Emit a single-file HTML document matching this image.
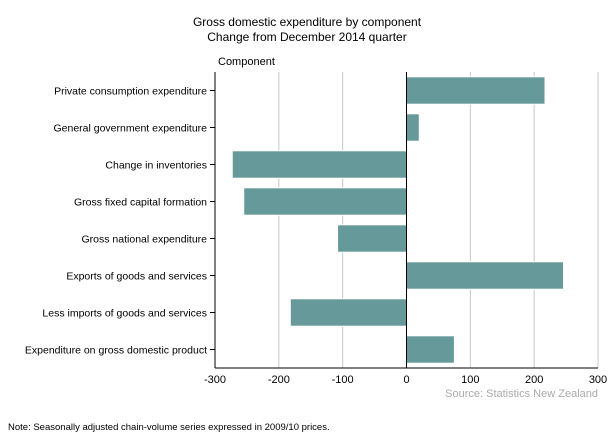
<!DOCTYPE html>
<html><head><meta charset="utf-8"><style>
body{margin:0;background:#fff;font-family:"Liberation Sans",Arial,sans-serif;}
svg text{font-family:"Liberation Sans",Arial,sans-serif;}
</style></head><body>
<svg id="chart" width="614" height="439" xmlns="http://www.w3.org/2000/svg">
<text x="307" y="26" font-size="12" text-anchor="middle" fill="#000">Gross domestic expenditure by component</text>
<text x="307" y="41" font-size="12" text-anchor="middle" fill="#000">Change from December 2014 quarter</text>
<text x="218" y="65" font-size="11" fill="#000">Component</text>
<g id="grid"></g><g id="bars"></g><g id="axes"></g>
<text x="598" y="397" font-size="11" text-anchor="end" fill="#aaa">Source: Statistics New Zealand</text>
<text x="8" y="430" font-size="9.5" fill="#000">Note: Seasonally adjusted chain-volume series expressed in 2009/10 prices.</text>
</svg>
<script>
const categories=["Private consumption expenditure","General government expenditure","Change in inventories","Gross fixed capital formation","Gross national expenditure","Exports of goods and services","Less imports of goods and services","Expenditure on gross domestic product"];
const values=[217,20,-273,-255,-108,246,-182,75];
const ticks=[-300,-200,-100,0,100,200,300];
const NS="http://www.w3.org/2000/svg";
const L=215,R=598,T=72,B=368;
const x=v=>L+(v+300)/600*(R-L);
const band=(B-T)/categories.length;
const y=i=>T+i*band;
function mk(t,a,p){const e=document.createElementNS(NS,t);for(const k in a)e.setAttribute(k,a[k]);p.appendChild(e);return e;}
const grid=document.getElementById('grid'),bars=document.getElementById('bars'),axes=document.getElementById('axes');
ticks.forEach(t=>{
  if(t!==-300&&t!==0){const g=mk('line',{x1:x(t),x2:x(t),y1:T,y2:B,stroke:'#c8c8c8','stroke-width':1},grid);
  
  }
  const tx=mk('text',{x:x(t),y:B+15,'font-size':11,'text-anchor':'middle',fill:'#000'},axes);
  tx.textContent=t;
  
  
});
values.forEach((v,i)=>{
  const x0=Math.min(x(0),x(v)),w=Math.abs(x(v)-x(0));
  const r=mk('rect',{x:x0,y:y(i)+4.8,width:w,height:band-9.6,fill:'#669999',stroke:'#fff','stroke-width':1},bars);
  
  
  const cy=y(i)+band/2;
  const tk=mk('line',{x1:L-5,x2:L,y1:cy,y2:cy,stroke:'#000'},axes);
  
  
  const lb=mk('text',{x:L-8,y:cy+4,'font-size':10.5,'text-anchor':'end',fill:'#000'},axes);
  lb.textContent=categories[i];
  
  
});
const z=mk('line',{x1:x(0),x2:x(0),y1:T,y2:B,stroke:'#000','stroke-width':1},axes);


const ya=mk('line',{x1:L,x2:L,y1:T,y2:B,stroke:'#000','stroke-width':1},axes);


const xa=mk('line',{x1:L,x2:R,y1:B,y2:B,stroke:'#000','stroke-width':1},axes);


const rb=mk('line',{x1:R,x2:R,y1:T,y2:B,stroke:'#c8c8c8','stroke-width':1},grid);


</script>
</body></html>
